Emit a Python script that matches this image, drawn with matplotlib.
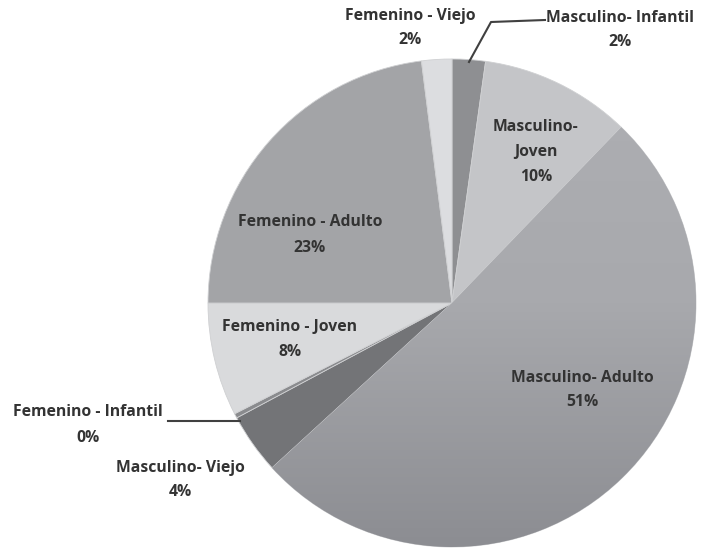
import matplotlib
matplotlib.use("Agg")
import matplotlib.pyplot as plt
import numpy as np
from matplotlib.colors import LinearSegmentedColormap

categories = ["Masculino- Infantil", "Masculino-\nJoven", "Masculino- Adulto",
              "Masculino- Viejo", "Femenino - Infantil", "Femenino - Joven",
              "Femenino - Adulto", "Femenino - Viejo"]
values = [2.2, 10.0, 51.0, 4.0, 0.3, 7.5, 23.0, 2.0]
pct_labels = ["2%", "10%", "51%", "4%", "0%", "8%", "23%", "2%"]
colors = ["#8e8f92", "#c4c5c8", "#a9aaae", "#737477", "#8a8b8e", "#d9dadc", "#a3a4a7", "#dcdde0"]

W, H = 702, 551
fig = plt.figure(figsize=(W / 100, H / 100), dpi=100)
ax = fig.add_axes([0, 0, 1, 1])
cx, cy, r = 452, H - 303, 244
wedges, _ = ax.pie(values, colors=colors, startangle=90, counterclock=False,
                   center=(cx, cy), radius=r, frame=True,
                   wedgeprops=dict(edgecolor="#cfd0d2", linewidth=0.6))
ax.set_xlim(0, W)
ax.set_ylim(0, H)
ax.set_aspect("equal")
ax.axis("off")

# subtle vertical gradient on the large slice
cmap = LinearSegmentedColormap.from_list(
    "g", [(0, "#8c8d92"), (0.5, "#a8a9ad"), (1, "#aeafb3")])
grad = np.linspace(0, 1, 256).reshape(-1, 1)
im = ax.imshow(grad, cmap=cmap, extent=[cx - r, cx + r, cy - r, cy + r],
               origin="lower", aspect="auto", zorder=wedges[2].get_zorder() + 0.1)
im.set_clip_path(wedges[2])
ax.set_xlim(0, W)
ax.set_ylim(0, H)

font = dict(family="Open Sans", fontweight="bold", fontsize=11.3, color="#333333",
            ha="center", va="center", linespacing=1.75)

# label positions in pixel coords (x, y from top)
pos = [(620, 30), (536, 152), (582, 390), (180, 480), (88, 425), (290, 340), (310, 235), (410, 28)]
for cat, p, (x, y) in zip(categories, pct_labels, pos):
    ax.text(x, H - y, f"{cat}\n{p}", zorder=5, **font)

# leader lines
ax.plot([469, 491, 545], [H - 62, H - 22, H - 20], color="#404040", lw=1.5, zorder=5)
ax.plot([168, 240], [H - 421, H - 421], color="#404040", lw=1.5, zorder=5)

fig.savefig("out.png", dpi=100)
